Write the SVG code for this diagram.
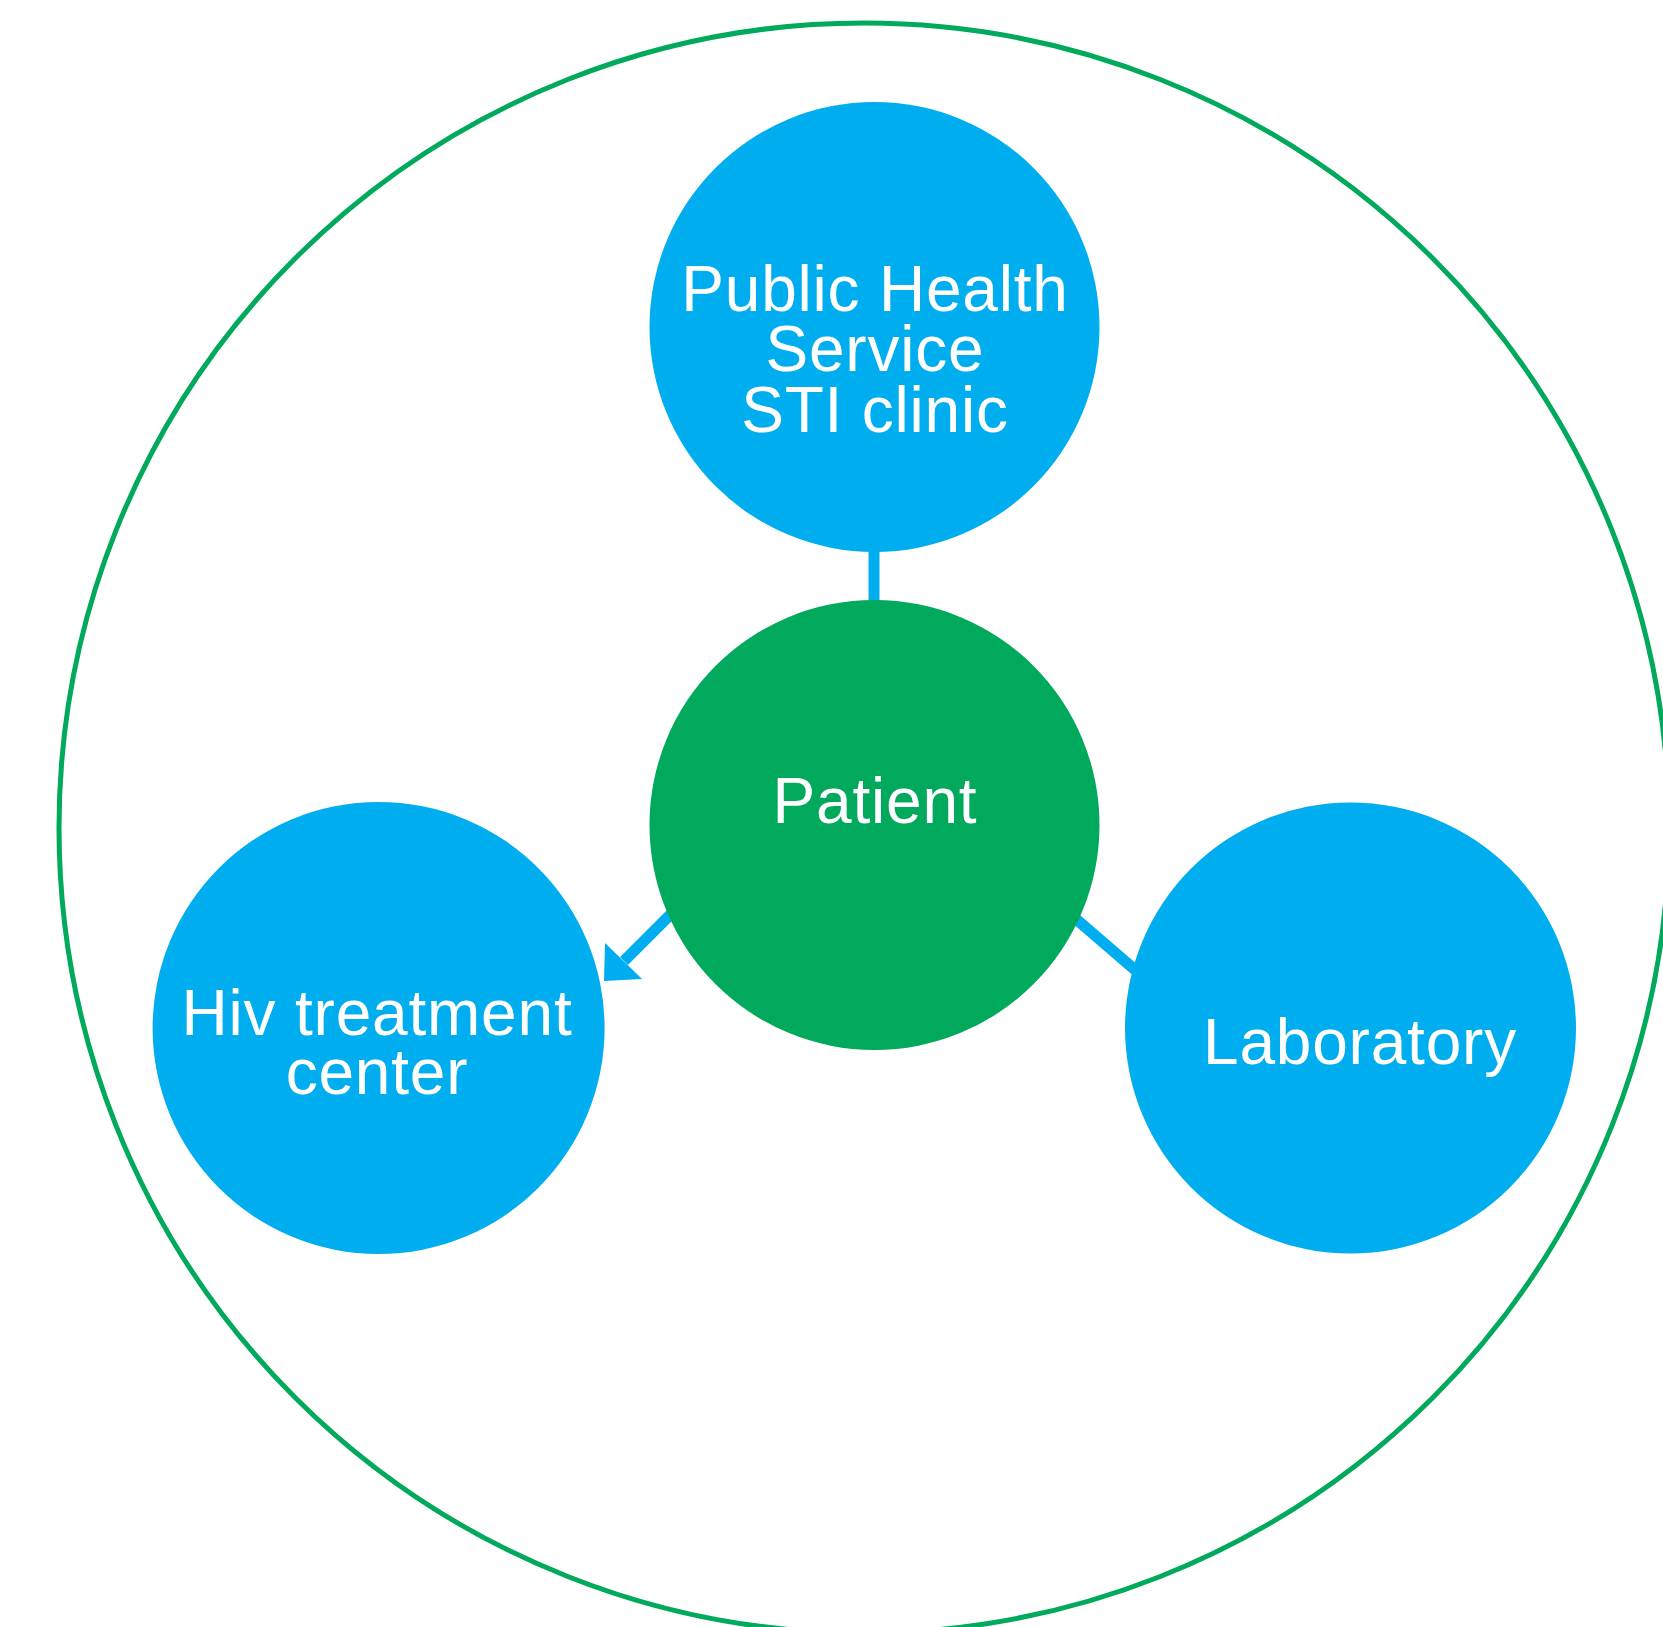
<svg xmlns="http://www.w3.org/2000/svg" width="1663" height="1627" viewBox="0 0 1663 1627">
  <style>
    .blue { fill: #00AEEF; }
    .green { fill: #00A95C; }
    .label { fill: #FFFFFF; font-family: "Liberation Sans", Arial, sans-serif; font-size: 64px; letter-spacing: 0.8px; text-anchor: middle; }
    .link { stroke: #00AEEF; stroke-width: 11; fill: none; }
  </style>
  <rect width="1663" height="1627" fill="#FFFFFF"/>

  <!-- outer boundary ring -->
  <circle id="boundary" cx="864" cy="828" r="805" fill="none" stroke="#00A95C" stroke-width="5"/>

  <!-- connectors -->
  <g id="connectors">
    <line class="link" x1="874" y1="540" x2="874" y2="610"/>
    <line class="link" x1="1040" y1="888" x2="1170" y2="1000"/>
    <line class="link" x1="690" y1="895" x2="624" y2="961"/>
    <polygon points="604,981 605,943 642,979" fill="#00AEEF"/>
  </g>

  <g id="node-public-health">
    <circle class="blue" cx="874.5" cy="327" r="225"/>
    <text class="label" x="875" y="311">Public Health</text>
    <text class="label" x="875" y="371">Service</text>
    <text class="label" x="875" y="432">STI clinic</text>
  </g>

  <g id="node-patient">
    <circle class="green" cx="874.5" cy="825" r="225"/>
    <text class="label" x="875" y="823">Patient</text>
  </g>

  <g id="node-hiv-center">
    <circle class="blue" cx="378.6" cy="1028" r="226"/>
    <text class="label" x="377" y="1035">Hiv treatment</text>
    <text class="label" x="377" y="1094">center</text>
  </g>

  <g id="node-laboratory">
    <circle class="blue" cx="1350.5" cy="1028" r="225.5"/>
    <text class="label" x="1360" y="1064">Laboratory</text>
  </g>
</svg>
